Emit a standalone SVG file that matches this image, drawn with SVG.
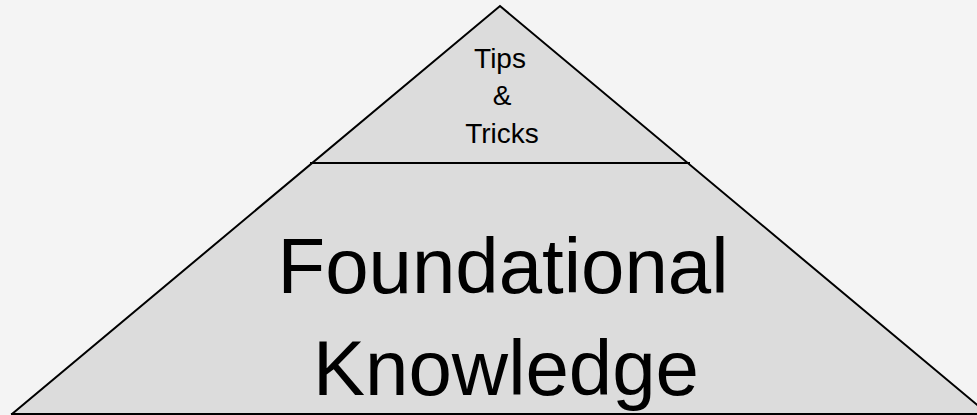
<svg xmlns="http://www.w3.org/2000/svg" width="977" height="415" viewBox="0 0 977 415">
<style>
.edge{fill:none;stroke:#000;stroke-width:2;stroke-linecap:square}
.t{font-family:"Liberation Sans",Arial,sans-serif;fill:#000;text-anchor:middle}
</style>
<rect width="977" height="415" fill="#f4f4f4"/>
<g id="pyramid">
<polygon points="500,6 12,414 988,414" fill="#dcdcdc" stroke="none"/>
<polyline class="edge" points="12,414 500,6 988,414"/>
<line class="edge" x1="12" y1="414" x2="977" y2="414"/>
</g>
<g id="connectors">
<line class="edge" x1="311" y1="163" x2="689" y2="163"/>
</g>
<g id="top">
<text class="t" font-size="28" x="500" y="68">Tips</text>
<text class="t" font-size="28" x="502" y="105">&amp;</text>
<text class="t" font-size="28" x="502" y="143">Tricks</text>
</g>
<g id="base">
<text class="t" font-size="78" x="503" y="293">Foundational</text>
<text class="t" font-size="78" x="506" y="395">Knowledge</text>
</g>
</svg>
